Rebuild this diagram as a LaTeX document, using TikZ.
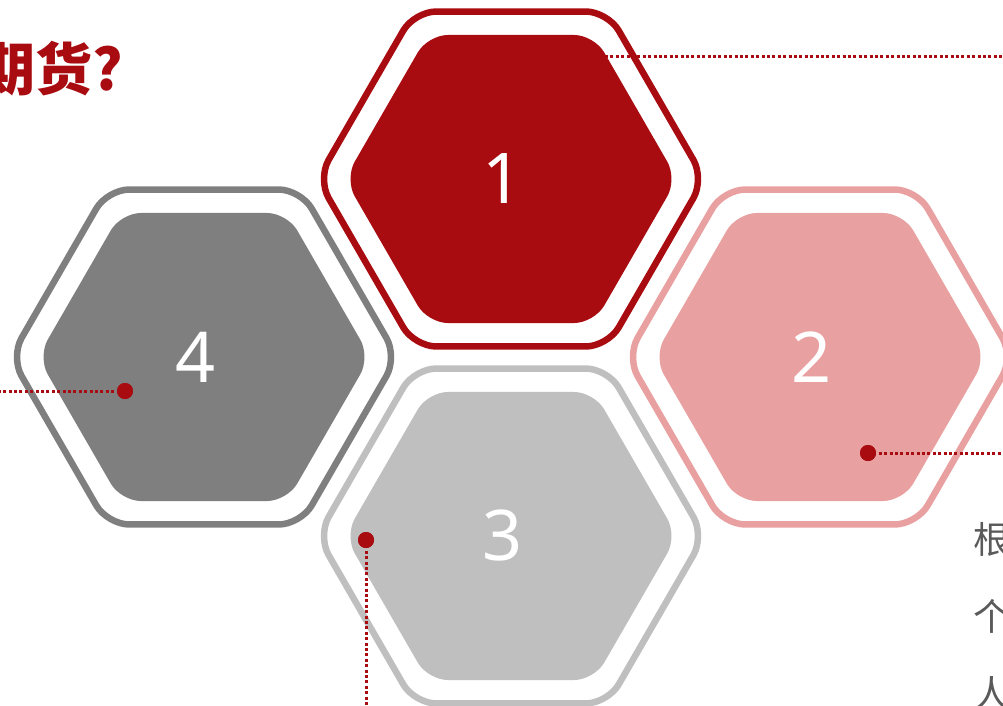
\documentclass[tikz,border=0pt]{standalone}
\usepackage{fontspec}
\newfontfamily\cjk{Noto Sans CJK SC}
\newfontfamily\numfont{Noto Sans}
\usetikzlibrary{calc}
\definecolor{dred}{RGB}{168,11,16}
\definecolor{pinkc}{RGB}{233,160,161}
\definecolor{grayd}{RGB}{127,127,127}
\definecolor{grayl}{RGB}{191,191,191}
\definecolor{txtgray}{RGB}{90,90,90}
\newcommand\myhex[1]{(0:#1) -- (60:#1) -- (120:#1) -- (180:#1) -- (240:#1) -- (300:#1) -- cycle}
\tikzset{
  hexout/.style={line width=6.5pt, rounded corners=22pt, fill=white},
  hexin/.style={rounded corners=20pt},
  num/.style={text=white, font=\numfont\fontsize{70}{84}\selectfont, inner sep=0pt},
  dotn/.style={circle, fill=dred, inner sep=0pt, minimum size=16pt},
  dotline/.style={draw=dred, line width=3pt, dash pattern=on 3pt off 2.4pt},
  title/.style={text=dred, font=\cjk\bfseries\fontsize{57}{60}\selectfont, inner sep=0pt, anchor=base west},
  side/.style={text=txtgray, font=\cjk\fontsize{37}{40}\selectfont, inner sep=0pt, anchor=base west},
}
\begin{document}
\begin{tikzpicture}[x=1pt,y=-1pt]
\useasboundingbox (0,0) rectangle (1003,706);
\clip (0,0) rectangle (1003,706);
% centres
\coordinate (c1) at (511,179);
\coordinate (c2) at (820,357);
\coordinate (c3) at (511,536);
\coordinate (c4) at (204,357);
% hexagons
\foreach \c/\col in {c1/dred, c2/pinkc, c3/grayl, c4/grayd}{
  \draw[hexout, draw=\col, shift={(\c)}] \myhex{193.4};
  \fill[hexin, fill=\col, shift={(\c)}] \myhex{166.3};
}
% numbers
\node[num, xshift=-8pt] (n1) at (c1) {1};
\node[num, xshift=-8pt] (n2) at (c2) {2};
\node[num, xshift=-8pt] (n3) at (c3) {3};
\node[num, xshift=-8pt] (n4) at (c4) {4};
% connectors
\coordinate (s1) at (605,57);
\coordinate (e1) at (1003,57);
\draw[dotline] (s1) -- (e1);
\node[dotn] (d4) at (125,391) {};
\coordinate (e4) at (0,391);
\draw[dotline] (d4.center) -- (e4);
\node[dotn] (d2) at (868,453) {};
\coordinate (e2) at (1003,453);
\draw[dotline] (d2.center) -- (e2);
\node[dotn] (d3) at (366,540) {};
\coordinate (e3) at (366,706);
\draw[dotline] (d3.center) -- (e3);
\node[dotn] at (d4) {};
\node[dotn] at (d2) {};
\node[dotn] at (d3) {};
% texts
\node[title] (t) at (-22,91) {期货?};
\node[side] (r1) at (973,553) {根};
\node[side] (r2) at (973,630) {个};
\node[side] (r3) at (973,707) {人};
\end{tikzpicture}
\end{document}
